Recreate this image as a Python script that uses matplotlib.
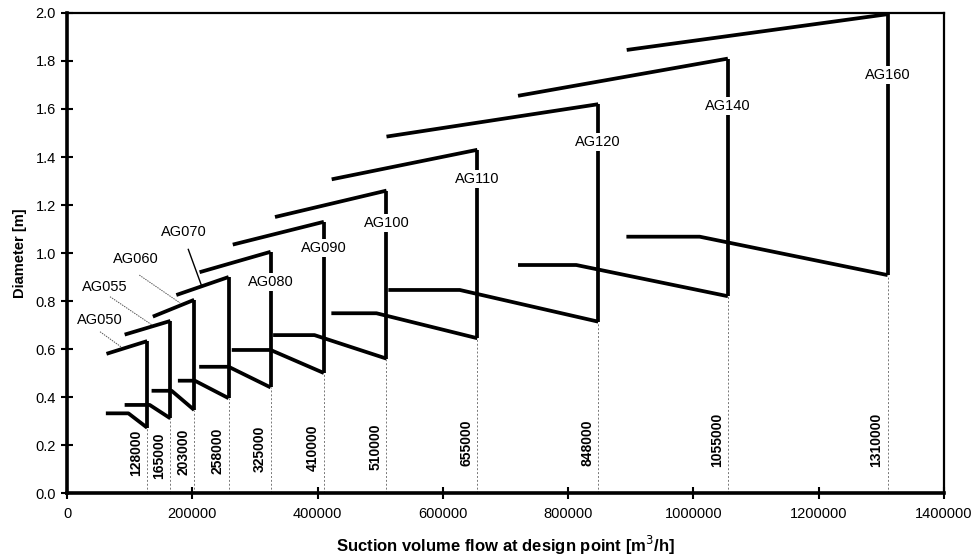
import matplotlib

matplotlib.use("Agg")
import matplotlib.pyplot as plt

plt.rcParams["font.family"] = ["Liberation Sans", "DejaVu Sans"]

# compressor sizes and their max. suction volume flow [m3/h]
models = ["AG050", "AG055", "AG060", "AG070", "AG080", "AG090",
          "AG100", "AG110", "AG120", "AG140", "AG160"]
flow_max = [128000, 165000, 203000, 258000, 325000, 410000,
            510000, 655000, 848000, 1055000, 1310000]

# upper diameter line: start flow, start diameter, diameter at flow_max
top_start_x = [63000, 92000, 137000, 174500, 211600, 264600,
               332000, 422500, 510000, 720000, 893500]
top_start_d = [0.58, 0.66, 0.735, 0.825, 0.92, 1.035,
               1.15, 1.307, 1.485, 1.655, 1.846]
top_end_d = [0.633, 0.717, 0.805, 0.90, 1.005, 1.13,
             1.26, 1.43, 1.62, 1.81, 1.995]

# lower diameter line: start flow, knee flow, flat diameter, diameter at flow_max
low_start_x = [62000, 92000, 135000, 177000, 211000, 263000,
               329000, 422000, 513000, 720000, 893000]
low_knee_x = [98000, 132000, 167000, 204000, 258000, 325000,
              395000, 494000, 627000, 813000, 1010000]
low_flat_d = [0.332, 0.367, 0.426, 0.468, 0.526, 0.596,
              0.658, 0.749, 0.846, 0.95, 1.068]
low_end_d = [0.272, 0.311, 0.346, 0.395, 0.44, 0.50,
             0.56, 0.645, 0.714, 0.82, 0.908]

# height of the rotated flow labels
flow_label_y = [0.167, 0.155, 0.172, 0.176, 0.185, 0.19,
                0.193, 0.21, 0.21, 0.22, 0.22]

# labels placed on the vertical line (AG080 .. AG160)
label_on_line_y = [None, None, None, None, 0.88, 1.02,
                   1.124, 1.308, 1.464, 1.6125, 1.742]

# labels with leader lines (AG050 .. AG070): text pos, leader start, leader end
leader_text = [(52700, 0.72), (60700, 0.857), (110000, 0.974), (185700, 1.089)]
leader_from = [(52700, 0.672), (68600, 0.818), (115400, 0.908), (193600, 1.015)]
leader_to = [(87300, 0.607), (135200, 0.701), (180400, 0.792), (215000, 0.862)]

fig = plt.figure(figsize=(9.77, 5.6), dpi=100)
ax = fig.add_axes([0.0686, 0.1196, 0.8976, 0.8572])

lw = 2.7
for i, name in enumerate(models):
    xm = flow_max[i]
    # upper line, vertical, lower line
    ax.plot([top_start_x[i], xm], [top_start_d[i], top_end_d[i]],
            color="black", lw=lw, solid_capstyle="butt", zorder=3)
    ax.plot([xm, xm], [low_end_d[i], top_end_d[i]],
            color="black", lw=lw, solid_capstyle="butt", zorder=3)
    ax.plot([low_start_x[i], low_knee_x[i], xm],
            [low_flat_d[i], low_flat_d[i], low_end_d[i]],
            color="black", lw=lw, solid_capstyle="butt", zorder=3)
    # thin dotted drop line to the axis
    ax.plot([xm, xm], [0, low_end_d[i]], color="#777777", lw=0.7,
            linestyle=(0, (2, 2)), zorder=2)
    ax.annotate(str(xm), xy=(xm, flow_label_y[i]), xytext=(-8, 0),
                textcoords="offset points", rotation=90, ha="center",
                va="center", fontsize=10, fontweight="bold", zorder=4)
    if label_on_line_y[i] is not None:
        ax.text(xm, label_on_line_y[i], name, ha="center", va="center",
                fontsize=10.5, zorder=5,
                bbox=dict(facecolor="white", edgecolor="none", pad=1.5))

for i in range(4):
    ax.text(leader_text[i][0], leader_text[i][1], models[i], ha="center",
            va="center", fontsize=10.5, zorder=5)
    if i < 3:
        ax.plot([leader_from[i][0], leader_to[i][0]],
                [leader_from[i][1], leader_to[i][1]], color="#555555",
                lw=0.7, linestyle=(0, (1.5, 1)), zorder=2)
    else:
        ax.plot([leader_from[i][0], leader_to[i][0]],
                [leader_from[i][1], leader_to[i][1]], color="black",
                lw=1.0, zorder=2)

ax.set_xlim(0, 1400000)
ax.set_ylim(0, 2.0)
ax.set_xticks(range(0, 1400001, 200000))
ax.set_yticks([i * 0.2 for i in range(11)])
ax.set_xticklabels([str(v) for v in range(0, 1400001, 200000)])
ax.set_yticklabels([f"{i * 0.2:.1f}" for i in range(11)])
ax.tick_params(direction="inout", length=8, width=1.5, labelsize=10.5, pad=4)
ax.tick_params(axis="x", pad=6)

for side in ["left", "bottom"]:
    ax.spines[side].set_linewidth(2.6)
for side in ["top", "right"]:
    ax.spines[side].set_linewidth(1.6)

ax.set_xlabel("Suction volume flow at design point [m$^3$/h]",
              fontsize=12, fontweight="bold", labelpad=9)
ax.set_ylabel("Diameter [m]", fontsize=10.5, fontweight="bold", labelpad=6)

fig.savefig("out.png", dpi=100)
plt.close(fig)
